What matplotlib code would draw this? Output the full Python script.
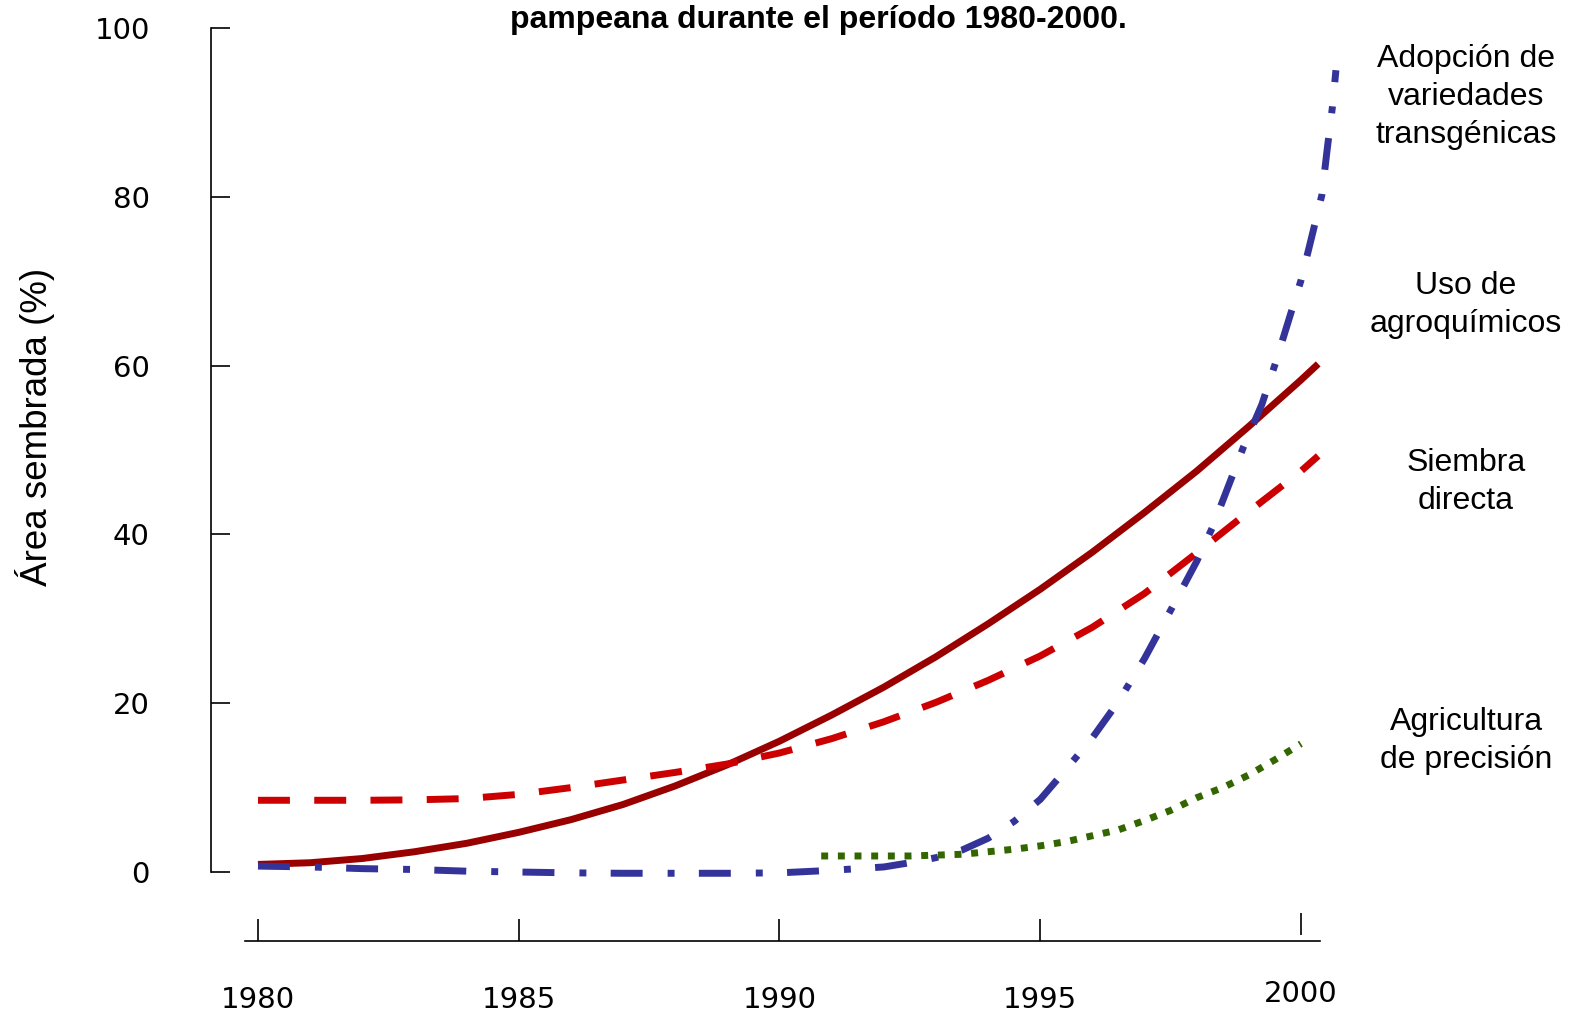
import matplotlib
matplotlib.use("Agg")
import matplotlib.pyplot as plt
from matplotlib.transforms import ScaledTranslation

# valores (area sembrada, %)
anios_agro = [1980, 1981, 1982, 1983, 1984, 1985, 1986, 1987, 1988, 1989, 1990,
              1991, 1992, 1993, 1994, 1995, 1996, 1997, 1998, 1999, 2000, 2000.33]
agroquimicos = [0.9, 1.1, 1.6, 2.4, 3.4, 4.7, 6.2, 8.0, 10.2, 12.7, 15.5,
                18.6, 21.9, 25.5, 29.4, 33.5, 37.9, 42.6, 47.5, 52.8, 58.3, 60.2]

anios_siembra = [1980, 1981, 1982, 1983, 1984, 1985, 1986, 1987, 1988, 1989, 1990,
                 1991, 1992, 1993, 1994, 1995, 1996, 1997, 1998, 1999, 2000, 2000.33]
siembra_directa = [8.5, 8.5, 8.5, 8.55, 8.7, 9.2, 10.0, 10.9, 11.8, 12.8, 14.1,
                   15.8, 17.8, 20.1, 22.7, 25.6, 29.0, 33.0, 37.8, 42.7, 47.5, 49.3]

anios_transg = [1980, 1981, 1982, 1983, 1984, 1985, 1986, 1987, 1988, 1989, 1990,
                1991, 1991.5, 1992, 1992.5, 1993, 1993.5, 1994, 1994.5, 1995, 1995.5,
                1996, 1996.5, 1997, 1997.5, 1998, 1998.3, 1998.6, 1998.9, 1999.25,
                1999.5, 1999.75, 2000, 2000.2, 2000.4, 2000.5, 2000.6, 2000.67]
transgenicas = [0.7, 0.6, 0.4, 0.3, 0.1, 0.0, -0.1, -0.15, -0.15, -0.15, -0.1,
                0.2, 0.4, 0.6, 1.1, 1.7, 2.6, 4.0, 6.0, 8.6, 12.2,
                15.9, 20.2, 25.3, 31.0, 36.8, 40.8, 45.6, 50.4, 55.4,
                60.1, 65.1, 70.1, 75.1, 80.2, 85.5, 90.5, 95.0]

anios_prec = [1990.8, 1991.5, 1992, 1992.5, 1993, 1993.5, 1994, 1994.5, 1995,
              1995.5, 1996, 1996.5, 1997, 1997.5, 1998, 1998.5, 1999, 1999.5, 2000]
precision = [1.9, 1.9, 1.9, 1.9, 2.0, 2.1, 2.4, 2.7, 3.1,
             3.6, 4.3, 5.0, 6.1, 7.3, 8.8, 10.0, 11.5, 13.3, 15.2]

xticks = [1980, 1985, 1990, 1995, 2000]
yticks = [0, 20, 40, 60, 80, 100]

fig = plt.figure(figsize=(15.7, 10.14), dpi=100)
ax = fig.add_axes([0.13439, 0.04014, 0.71911, 0.93225])

lw = 5
ax.plot(anios_agro, agroquimicos, color='#990000', lw=lw, solid_capstyle='butt',
        solid_joinstyle='round')
ax.plot(anios_siembra, siembra_directa, color='#cc0000', lw=lw,
        linestyle=(0, (4.6, 3.5)), dash_capstyle='butt')
ax.plot(anios_transg, transgenicas, color='#333399', lw=lw,
        linestyle=(0, (4.6, 3.6, 1.0, 3.5)), dash_capstyle='butt')
ax.plot(anios_prec, precision, color='#336600', lw=lw,
        linestyle=(0, (1.0, 1.4)), dash_capstyle='butt')

ax.set_xlim(1979.099, 2000.748)
ax.set_ylim(-12, 100)

for s in ['top', 'right']:
    ax.spines[s].set_visible(False)
ax.spines['left'].set_bounds(0, 100)
ax.spines['left'].set_linewidth(1.2)
ax.spines['bottom'].set_position(('data', -8.2))
ax.spines['bottom'].set_bounds(1979.75, 2000.36)
ax.spines['bottom'].set_linewidth(1.2)

ax.set_xticks(xticks)
ax.set_xticklabels([str(t) for t in xticks])
ax.set_yticks(yticks)
ax.set_yticklabels([str(t) for t in yticks])
ax.tick_params(axis='x', direction='in', length=15.8, width=1.2, pad=32,
               labelsize=21)
ax.tick_params(axis='y', direction='in', length=13.7, width=1.2, pad=44,
               labelsize=21)
for lbl in ax.get_xticklabels() + ax.get_yticklabels():
    lbl.set_fontfamily('DejaVu Sans')

# la etiqueta y la marca de 2000 estan un poco mas arriba en el original
subir = ScaledTranslation(0, 6 / 100, fig.dpi_scale_trans)
ult = ax.get_xticklabels()[-1]
ult.set_transform(ult.get_transform() + subir)
marca = ax.xaxis.get_major_ticks()[-1].tick1line
marca.set_transform(marca.get_transform() + subir)

fig.text(35 / 1570, 1 - 427 / 1014, 'Área sembrada (%)', rotation=90,
         ha='center', va='center', fontsize=26.5, family='Liberation Sans')

fig.text(818 / 1570, 1 - 20 / 1014, 'pampeana durante el período 1980-2000.',
         ha='center', va='center', fontsize=23, fontweight='bold',
         family='Liberation Sans')

etiquetas = [
    ('Adopción de\nvariedades\ntransgénicas', 97),
    ('Uso de\nagroquímicos', 305),
    ('Siembra\ndirecta', 482),
    ('Agricultura\nde precisión', 741),
]
for txt, ypix in etiquetas:
    fig.text(1466 / 1570, 1 - ypix / 1014, txt, ha='center', va='center',
             fontsize=23, family='Liberation Sans', linespacing=1.33)

fig.savefig('out.png', dpi=100)
